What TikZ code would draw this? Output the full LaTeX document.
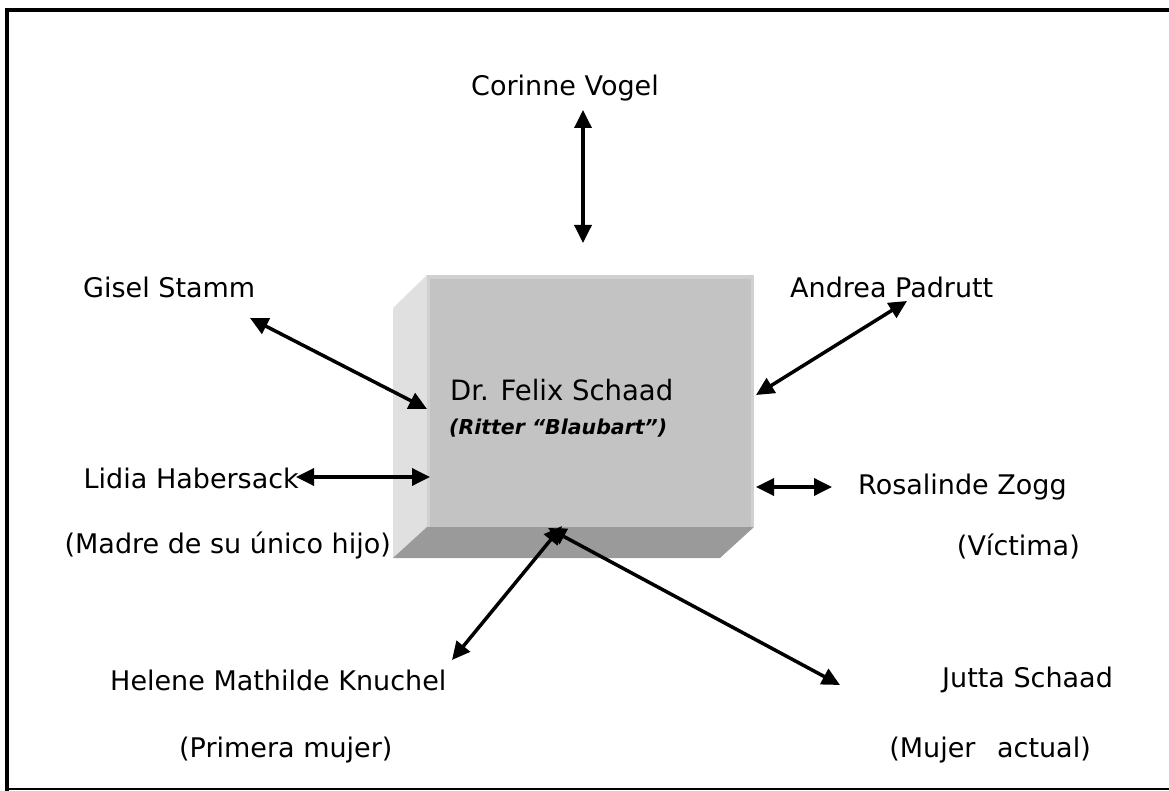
\documentclass[tikz,border=0pt]{standalone}
\usepackage{fontspec}
\usepackage{graphicx}
\setmainfont{DejaVu Sans}
\usetikzlibrary{arrows.meta}
\definecolor{faceFront}{HTML}{C3C3C3}
\definecolor{faceSide}{HTML}{E0E0E0}
\definecolor{faceBottom}{HTML}{9A9A9A}
\definecolor{faceEdge}{HTML}{D0D0D0}
% set a label to a given width, keeping its height
\newcommand\wfit[2]{\resizebox{#1pt}{\height}{#2}}
\tikzset{
  lbl/.style={inner sep=0pt, font=\fontsize{27}{31}\selectfont},
  link/.style={line width=3.5pt, arrows={Triangle[length=18pt,width=17pt]-Triangle[length=18pt,width=17pt]}},
}
\begin{document}
\begin{tikzpicture}[x=1pt,y=-1pt]
\useasboundingbox (0,0) rectangle (1169,791);
% frame
\draw[line width=4pt] (7,791) -- (7,10) -- (1169,10);
\draw[line width=2pt] (7,789) -- (1169,789);
% three-sided block
\fill[faceSide] (393,308) -- (427,275) -- (427,527) -- (393,558) -- cycle;
\fill[faceBottom] (393,558) -- (427,527) -- (754,527) -- (720,558) -- cycle;
\fill[faceFront] (427,275) rectangle (754,527);
\fill[faceEdge] (427,275) rectangle (754,279);
\fill[faceEdge] (427,275) rectangle (430,527);
\fill[faceEdge] (751,275) rectangle (754,527);
\node[anchor=west, inner sep=0pt, font=\fontsize{28}{32}\selectfont] (felix) at (450,390) {\wfit{223}{Dr. Felix Schaad}};
\node[anchor=west, inner sep=0pt, font=\bfseries\itshape\fontsize{20.5}{24}\selectfont] (ritter) at (449,428) {\wfit{218}{(Ritter “Blaubart”)}};
% hooks on the block
\coordinate (bTop) at (583,243);
\coordinate (bGisel) at (427,409);
\coordinate (bAndrea) at (756,395);
\coordinate (bLidia) at (430,477);
\coordinate (bRosa) at (756,487);
\coordinate (bHelene) at (562,526);
\coordinate (bJutta) at (548,528);
% names
\node[lbl, anchor=center] (corinne) at (565,88) {Corinne Vogel};
\node[lbl, anchor=west] (gisel) at (83,287) {Gisel Stamm};
\node[lbl, anchor=west] (andrea) at (790,287) {Andrea Padrutt};
\node[lbl, anchor=east] (lidia) at (299,478) {Lidia Habersack};
\node[lbl, anchor=east] (madre) at (391,546) {(Madre de su único hijo)};
\node[lbl, anchor=west] (rosa) at (858,487) {Rosalinde Zogg};
\node[lbl, anchor=east] (victima) at (1080,546) {(Víctima)};
\node[lbl, anchor=west] (helene) at (110,680) {Helene Mathilde Knuchel};
\node[lbl, anchor=west] (primera) at (179,750) {(Primera mujer)};
\node[lbl, anchor=west] (jutta) at (942,680) {Jutta Schaad};
\node[lbl, anchor=east] (actual) at (1091,750) {(Mujer\hspace{0.8em}actual)};
% free ends near the names
\coordinate (eCorinne) at (583,110);
\coordinate (eGisel) at (250,318);
\coordinate (eAndrea) at (907,301);
\coordinate (eLidia) at (296,477);
\coordinate (eRosa) at (832,487);
\coordinate (eHelene) at (452,660);
\coordinate (eJutta) at (840,685);
% connectors
\draw[link] (eCorinne) -- (bTop);
\draw[link] (eGisel) -- (bGisel);
\draw[link] (eAndrea) -- (bAndrea);
\draw[link] (eLidia) -- (bLidia);
\draw[link] (bRosa) -- (eRosa);
\draw[link] (eHelene) -- (bHelene);
\draw[link] (bJutta) -- (eJutta);
\end{tikzpicture}
\end{document}
